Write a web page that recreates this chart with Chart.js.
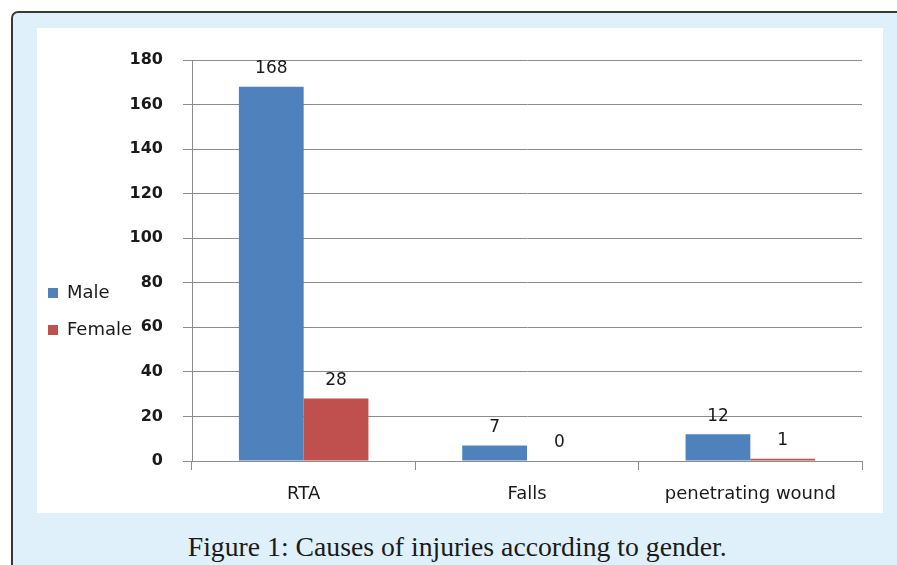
<!DOCTYPE html>
<html>
<head>
<meta charset="utf-8">
<script src="https://cdn.jsdelivr.net/npm/chart.js@4/dist/chart.umd.min.js"></script>
<style>
  html, body { margin: 0; padding: 0; background: #ffffff; }
  body { width: 897px; height: 565px; position: relative; overflow: hidden; }
  #frame { position: absolute; left: 11px; top: 11px; width: 900px; height: 580px;
           background: #dff0fb; border: 2px solid #3a3a3a; border-radius: 7px; box-sizing: border-box; }
  #panel { position: absolute; left: 37px; top: 28px; width: 846px; height: 485px; background: #ffffff; }
  #caption { position: absolute; left: 0; width: 914px; top: 531px; text-align: center;
             font-family: "Liberation Serif", serif; font-size: 28px; color: #1a1a1a; }
  #caption span { display: inline-block; transform: scaleX(0.99); }
</style>
</head>
<body>
<div id="frame"></div>
<div id="panel"><canvas id="c" width="846" height="485"></canvas></div>
<div id="caption"><span>Figure 1: Causes of injuries according to gender.</span></div>
<script>
const categories = ["RTA", "Falls", "penetrating wound"];
const maleValues = [168, 7, 12];
const femaleValues = [28, 0, 1];
const seriesNames = ["Male", "Female"];
const yTicks = [0, 20, 40, 60, 80, 100, 120, 140, 160, 180];

const valueLabels = {
  id: "valueLabels",
  afterDatasetsDraw(chart) {
    const ctx = chart.ctx;
    ctx.save();
    ctx.font = "17px 'DejaVu Sans'";
    ctx.fillStyle = "#1a1a1a";
    ctx.textAlign = "center";
    ctx.textBaseline = "middle";
    chart.data.datasets.forEach((ds, i) => {
      chart.getDatasetMeta(i).data.forEach((bar, j) => {
        ctx.fillText(String(ds.data[j]), bar.x, bar.y - 18);
      });
    });
    ctx.restore();
  }
};

const sideLegend = {
  id: "sideLegend",
  afterDraw(chart) {
    const ctx = chart.ctx;
    ctx.save();
    ctx.font = "18px 'DejaVu Sans'";
    ctx.textBaseline = "middle";
    ctx.textAlign = "left";
    chart.data.datasets.forEach((ds, i) => {
      const y = 265 + i * 37;
      ctx.fillStyle = ds.backgroundColor;
      ctx.fillRect(11, y - 5, 10, 10);
      ctx.fillStyle = "#1a1a1a";
      ctx.fillText(ds.label, 30, y);
    });
    ctx.restore();
  }
};

new Chart(document.getElementById("c"), {
  type: "bar",
  data: {
    labels: categories,
    datasets: [
      { label: seriesNames[0], data: maleValues, backgroundColor: "#4f81bd" },
      { label: seriesNames[1], data: femaleValues, backgroundColor: "#c0504d" }
    ]
  },
  options: {
    responsive: false,
    animation: false,
    layout: { padding: { top: 32, right: 21, left: 0, bottom: 0 } },
    datasets: { bar: { categoryPercentage: 0.58, barPercentage: 1.0 } },
    plugins: { legend: { display: false }, tooltip: { enabled: false } },
    scales: {
      x: {
        afterFit(scale) { scale.height = 52; },
        grid: { drawOnChartArea: false, drawTicks: true, tickLength: 9, color: "#8c8c8c", offset: true },
        border: { color: "#8c8c8c", width: 1 },
        ticks: { font: { family: "DejaVu Sans", size: 18 }, color: "#1a1a1a", padding: 14 }
      },
      y: {
        min: 0, max: 180,
        afterFit(scale) { scale.width = 155; },
        afterBuildTicks(scale) { scale.ticks = yTicks.map(v => ({ value: v })); },
        grid: { color: "#8c8c8c", lineWidth: 1, tickLength: 9 },
        border: { color: "#8c8c8c", width: 1 },
        ticks: { font: { family: "DejaVu Sans", size: 16, weight: "bold" }, color: "#1a1a1a", padding: 20 }
      }
    }
  },
  plugins: [valueLabels, sideLegend]
});
</script>
</body>
</html>
